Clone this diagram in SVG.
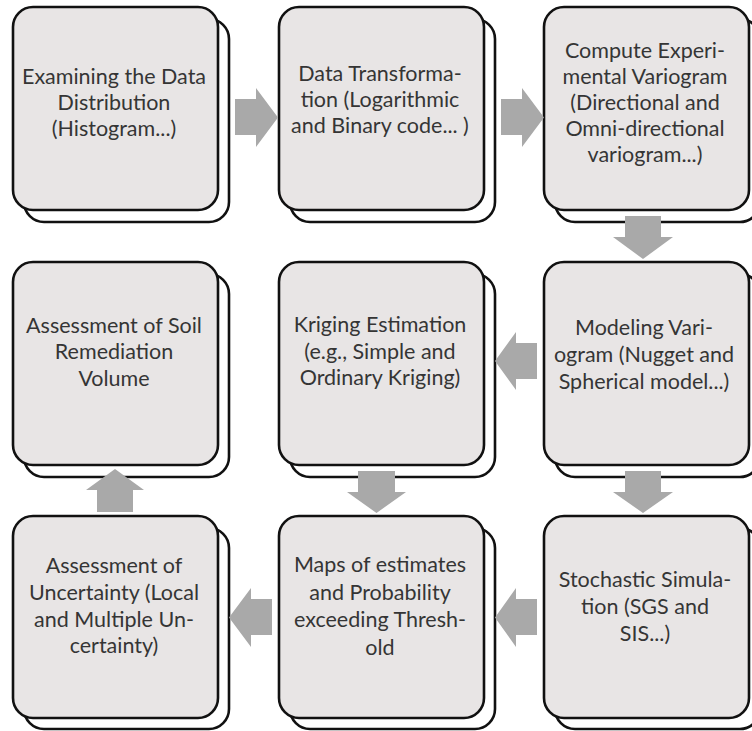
<svg xmlns="http://www.w3.org/2000/svg" width="752" height="731" viewBox="0 0 752 731">
<style>
.back{fill:#ffffff;stroke:#111;stroke-width:2.6}
.front{fill:#e8e5e5;stroke:#111;stroke-width:2.6}
.t{font-family:Lato,"Open Sans","Liberation Sans",sans-serif;font-size:21.5px;fill:#353535;text-anchor:middle}
.arr{fill:#a9a9a9;stroke:none}
</style>
<rect width="752" height="731" fill="#ffffff"/>
<g id="n1">
<rect class="back" x="24" y="19" width="205" height="203" rx="20"/>
<rect class="front" x="13" y="7" width="205" height="203" rx="20"/>
<text class="t"><tspan x="114" y="83.5">Examining the Data</tspan><tspan x="114" y="109.5">Distribution</tspan><tspan x="114" y="135.5">(Histogram...)</tspan></text>
</g>
<g id="n2">
<rect class="back" x="290" y="19" width="205" height="203" rx="20"/>
<rect class="front" x="279" y="7" width="205" height="203" rx="20"/>
<text class="t"><tspan x="380" y="81">Data Transforma-</tspan><tspan x="380" y="107">tion (Logarithmic</tspan><tspan x="380" y="133">and Binary code... )</tspan></text>
</g>
<g id="n3">
<rect class="back" x="555" y="19" width="205" height="203" rx="20"/>
<rect class="front" x="544" y="7" width="205" height="203" rx="20"/>
<text class="t"><tspan x="645" y="58">Compute Experi-</tspan><tspan x="645" y="84">mental Variogram</tspan><tspan x="645" y="110">(Directional and</tspan><tspan x="645" y="136">Omni-directional</tspan><tspan x="645" y="162">variogram...)</tspan></text>
</g>
<g id="n4">
<rect class="back" x="24" y="274" width="205" height="203" rx="20"/>
<rect class="front" x="13" y="262" width="205" height="203" rx="20"/>
<text class="t"><tspan x="114" y="333">Assessment of Soil</tspan><tspan x="114" y="359">Remediation</tspan><tspan x="114" y="385.5">Volume</tspan></text>
</g>
<g id="n5">
<rect class="back" x="290" y="274" width="205" height="203" rx="20"/>
<rect class="front" x="279" y="262" width="205" height="203" rx="20"/>
<text class="t"><tspan x="380" y="332">Kriging Estimation</tspan><tspan x="380" y="358.5">(e.g., Simple and</tspan><tspan x="380" y="385">Ordinary Kriging)</tspan></text>
</g>
<g id="n6">
<rect class="back" x="555" y="274" width="205" height="203" rx="20"/>
<rect class="front" x="544" y="262" width="205" height="203" rx="20"/>
<text class="t"><tspan x="644" y="335">Modeling Vari-</tspan><tspan x="644" y="362">ogram (Nugget and</tspan><tspan x="644" y="389">Spherical model...)</tspan></text>
</g>
<g id="n7">
<rect class="back" x="24" y="528" width="205" height="201" rx="20"/>
<rect class="front" x="13" y="516" width="205" height="202" rx="20"/>
<text class="t"><tspan x="114" y="573">Assessment of</tspan><tspan x="114" y="600">Uncertainty (Local</tspan><tspan x="114" y="627">and Multiple Un-</tspan><tspan x="114" y="653">certainty)</tspan></text>
</g>
<g id="n8">
<rect class="back" x="290" y="528" width="205" height="201" rx="20"/>
<rect class="front" x="279" y="516" width="205" height="202" rx="20"/>
<text class="t"><tspan x="380" y="572">Maps of estimates</tspan><tspan x="380" y="599.5">and Probability</tspan><tspan x="380" y="627">exceeding Thresh-</tspan><tspan x="380" y="654.5">old</tspan></text>
</g>
<g id="n9">
<rect class="back" x="555" y="528" width="205" height="201" rx="20"/>
<rect class="front" x="544" y="516" width="205" height="202" rx="20"/>
<text class="t"><tspan x="645" y="586.5">Stochastic Simula-</tspan><tspan x="645" y="613.5">tion (SGS and</tspan><tspan x="645" y="641">SIS...)</tspan></text>
</g>
<g id="connectors">
<polygon class="arr" points="235,99 256,99 256,88 278,117.5 256,147 256,135 235,135"/>
<polygon class="arr" points="501,99 522,99 522,88 544,117.5 522,147 522,135 501,135"/>
<polygon class="arr" points="625,216 661,216 661,237 673,237 643,259 613,237 625,237"/>
<polygon class="arr" points="537,343 516,343 516,332 495,361 516,390 516,379 537,379"/>
<polygon class="arr" points="358,471 395,471 395,492 406,492 376.5,513 347,492 358,492"/>
<polygon class="arr" points="625,471 661,471 661,492 673,492 643,513 613,492 625,492"/>
<polygon class="arr" points="537,599 516,599 516,588 495,617.5 516,647 516,635 537,635"/>
<polygon class="arr" points="272,599 251,599 251,588 229,617.5 251,647 251,635 272,635"/>
<polygon class="arr" points="97,512 133,512 133,490 144,490 115,469 86,490 97,490"/>
</g>
</svg>
